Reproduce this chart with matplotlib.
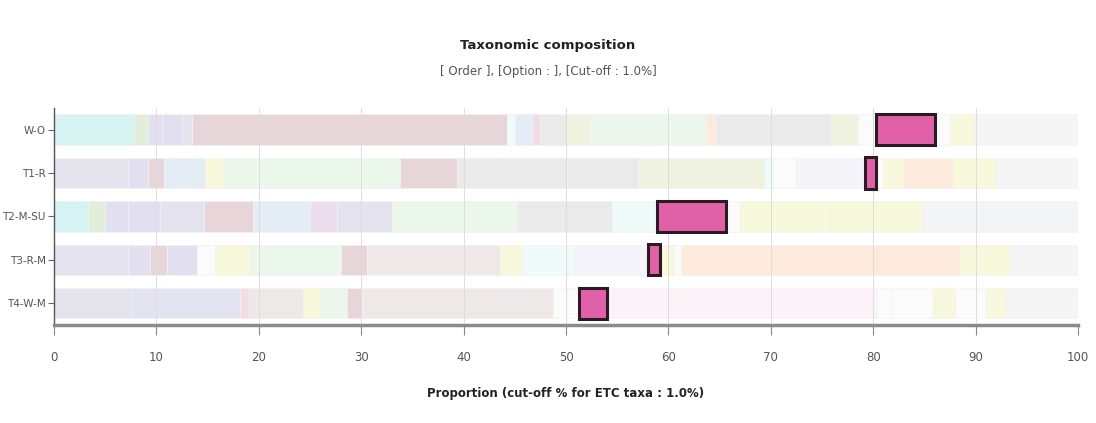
import matplotlib
matplotlib.use("Agg")
import matplotlib.pyplot as plt

plt.rcParams['font.family'] = ['DejaVu Sans']

samples = ['W-O', 'T1-R', 'T2-M-SU', 'T3-R-M', 'T4-W-M']

# proportions (%) of each order per sample, left to right
w_o = [7.8, 1.4, 1.3, 2.0, 1.0, 30.7, 0.8, 1.7, 0.8, 2.5, 2.3, 11.4, 0.8, 11.4, 2.6, 1.8, 5.7, 1.5, 2.3, 10.2]
t1_r = [7.2, 2.0, 1.5, 4.0, 1.8, 17.3, 5.6, 10.7, 6.9, 12.3, 0.9, 2.3, 6.7, 1.1, 0.7, 1.9, 4.9, 4.2, 8.0]
t2_m_su = [3.3, 1.7, 2.2, 3.1, 4.3, 4.8, 5.6, 2.6, 5.4, 12.2, 9.3, 4.4, 6.7, 1.4, 8.8, 9.1, 15.1]
t3_r_m = [7.2, 2.2, 1.6, 3.0, 1.7, 3.4, 8.9, 2.6, 13.0, 2.1, 5.2, 7.1, 1.2, 1.3, 0.7, 27.3, 4.9, 6.6]
t4_w_m = [7.6, 10.6, 0.8, 5.3, 1.7, 2.6, 1.5, 18.6, 2.6, 2.7, 26.4, 1.3, 4.1, 2.2, 3.0, 2.0, 7.0]

# colour key of each segment ('HL' = selected taxon)
w_o_keys = ['cyan', 'green', 'lavender', 'lavender', 'lavgrey', 'rose', 'ltcyan', 'ltblue', 'pink', 'grey',
            'yellowgreen', 'ltgreen', 'peach', 'grey', 'yellowgreen', 'white', 'HL', 'white', 'ltyellow', 'greywhite']
t1_r_keys = ['lavgrey', 'lavender', 'rose', 'ltblue', 'ltyellow', 'ltgreen', 'rose', 'grey', 'grey', 'yellowgreen',
             'ltcyan', 'white', 'lavwhite', 'HL', 'white', 'ltyellow', 'peach', 'ltyellow', 'greywhite']
t2_m_su_keys = ['cyan', 'green', 'lavender', 'lavender', 'lavgrey', 'rose', 'ltblue', 'lavpink', 'lavgrey',
                'ltgreen', 'grey', 'ltcyan', 'HL', 'white', 'ltyellow', 'ltyellow', 'ltbluegrey']
t3_r_m_keys = ['lavgrey', 'lavender', 'rose', 'lavender', 'white', 'ltyellow', 'ltgreen', 'rose', 'greypink',
               'ltyellow', 'ltcyan', 'lavwhite', 'HL', 'ltyellow', 'white', 'peach', 'ltyellow', 'greywhite']
t4_w_m_keys = ['lavgrey', 'lavblue', 'pink', 'greypink', 'ltyellow', 'ltgreen', 'rose', 'greypink', 'white',
               'HL', 'ltpink', 'white', 'white', 'ltyellow', 'white', 'ltyellow', 'greywhite']

xticks = [0, 10, 20, 30, 40, 50, 60, 70, 80, 90, 100]

palette = {
    'cyan': '#d6f3f3', 'green': '#e1eed9', 'lavender': '#e2e0f0', 'lavgrey': '#e4e3ee',
    'lavblue': '#e2e4f2', 'rose': '#e8d5da', 'ltblue': '#e4ecf6', 'lavpink': '#ecdeec',
    'ltgreen': '#ecf7ec', 'grey': '#eaeaea', 'ltcyan': '#effafa', 'white': '#fbfbfb',
    'lavwhite': '#f6f4fb', 'ltyellow': '#f8f8dd', 'yellowgreen': '#eff2df', 'peach': '#fdeadd',
    'greypink': '#efe8e8', 'pink': '#f1dde7', 'ltpink': '#fcf2f8', 'greywhite': '#f5f5f5',
    'ltbluegrey': '#f2f4f8', 'HL': '#e061a8',
}

rows = [w_o, t1_r, t2_m_su, t3_r_m, t4_w_m]
row_keys = [w_o_keys, t1_r_keys, t2_m_su_keys, t3_r_m_keys, t4_w_m_keys]

fig = plt.figure(figsize=(10.96, 4.23), dpi=100)
ax = fig.add_axes([0.0493, 0.2317, 0.9343, 0.5133])

for i, (vals, keys) in enumerate(zip(rows, row_keys)):
    left = 0.0
    for v, k in zip(vals, keys):
        if k == 'HL':
            ax.barh(i, v, left=left, height=0.72, color=palette[k],
                    edgecolor='#2a1a22', linewidth=2.2, zorder=4)
        else:
            ax.barh(i, v, left=left, height=0.7, color=palette[k],
                    edgecolor='#f2f2f2', linewidth=0.5, zorder=1)
        left += v

for x in xticks[1:]:
    ax.axvline(x, color='#dddddd', linewidth=0.7, zorder=2)

ax.set_xlim(0, 100)
ax.set_ylim(4.5, -0.5)
ax.set_yticks(range(len(samples)))
ax.set_yticklabels(samples, fontsize=7.5, color='#555555')
ax.set_xticks(xticks)
ax.set_xticklabels([str(t) for t in xticks], fontsize=8.5, color='#555555')
ax.tick_params(axis='x', length=7, width=0.8, color='#888888', pad=12)
ax.tick_params(axis='y', length=4, width=0.8, color='#666666', pad=2)

for s in ['top', 'right']:
    ax.spines[s].set_visible(False)
ax.spines['left'].set_color('#555555')
ax.spines['left'].set_linewidth(1.0)
ax.spines['bottom'].set_color('#8a8a8a')
ax.spines['bottom'].set_linewidth(2.5)

fig.text(0.5, 0.893, 'Taxonomic composition', ha='center', va='center',
         fontsize=9.5, fontweight='bold', color='#222222')
fig.text(0.5, 0.83, '[ Order ], [Option : ], [Cut-off : 1.0%]', ha='center', va='center',
         fontsize=8.5, color='#555555')
ax.set_xlabel('Proportion (cut-off % for ETC taxa : 1.0%)', fontsize=8.5,
              fontweight='bold', color='#222222', labelpad=16)

fig.savefig('out.png', dpi=100, facecolor='white')
